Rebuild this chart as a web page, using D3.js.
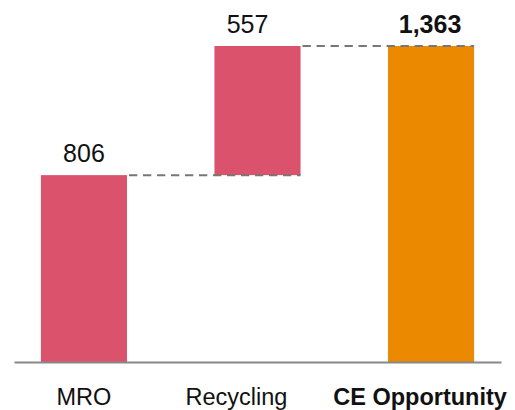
<!DOCTYPE html>
<html>
<head>
<meta charset="utf-8">
<script src="https://cdn.jsdelivr.net/npm/d3@7"></script>
<style>
  body { margin: 0; background: #fff; }
  text { font-family: "Liberation Sans", Arial, sans-serif; fill: #111; }
</style>
</head>
<body>
<div id="chart"></div>
<script>
// chart data
const categories = ["MRO", "Recycling", "CE Opportunity"];
const values = [806, 557, 1363];
const isTotal = [false, false, true];
const valueLabels = ["806", "557", "1,363"];

const width = 515, height = 410;
const pink = "#db526c", orange = "#eb8a00";
// small nudges so the labels sit where the original put them
const catShift = [0, -21, -11];
const valShift = [0, -10, -1];

// running start/end of each waterfall step
let run = 0;
const steps = values.map((v, i) => {
  let s;
  if (isTotal[i]) {
    s = { start: 0, end: v };
    run = v;
  } else {
    s = { start: run, end: run + v };
    run += v;
  }
  return { name: categories[i], value: v, label: valueLabels[i], total: isTotal[i], ...s, i: i };
});

const svg = d3.select("#chart")
  .append("svg")
  .attr("width", width)
  .attr("height", height);

const x = d3.scaleBand()
  .domain(categories)
  .range([14, 501])
  .paddingInner(0.504)
  .paddingOuter(0.155);

const y = d3.scaleLinear()
  .domain([0, 1363])
  .range([362, 46]);

// connectors (drawn after bars so they sit on top)
const bars = svg.append("g");
bars.selectAll("rect")
  .data(steps)
  .join("rect")
  .attr("x", d => x(d.name))
  .attr("width", x.bandwidth())
  .attr("y", d => y(d.end))
  .attr("height", d => y(d.start) - y(d.end))
  .attr("fill", d => d.total ? orange : pink);

svg.append("g").selectAll("line")
  .data(steps.slice(0, -1))
  .join("line")
  .attr("x1", d => x(d.name) + x.bandwidth() + 2)
  .attr("x2", (d, i) => x(steps[i + 1].name) + x.bandwidth())
  .attr("y1", d => y(d.end))
  .attr("y2", d => y(d.end))
  .attr("stroke", "#777")
  .attr("stroke-width", 2)
  .attr("stroke-dasharray", "8.3,5.7");

// baseline
svg.append("g")
  .attr("transform", "translate(0," + y(0) + ")")
  .call(d3.axisBottom(x).tickSize(0).tickFormat(""))
  .call(g => g.select(".domain").attr("stroke", "#888").attr("stroke-width", 2))
  .call(g => g.selectAll(".tick").remove());

// value labels
svg.append("g").selectAll("text")
  .data(steps)
  .join("text")
  .attr("x", d => x(d.name) + x.bandwidth() / 2 + valShift[d.i])
  .attr("y", d => y(d.end) - 13)
  .attr("text-anchor", "middle")
  .attr("font-size", 25)
  .attr("font-weight", d => d.total ? "bold" : "normal")
  .text(d => d.label);

// category labels
svg.append("g").selectAll("text")
  .data(steps)
  .join("text")
  .attr("x", d => x(d.name) + x.bandwidth() / 2 + catShift[d.i])
  .attr("y", 405)
  .attr("text-anchor", "middle")
  .attr("font-size", 23.5)
  .attr("font-weight", d => d.total ? "bold" : "normal")
  .text(d => d.name);
</script>
</body>
</html>
